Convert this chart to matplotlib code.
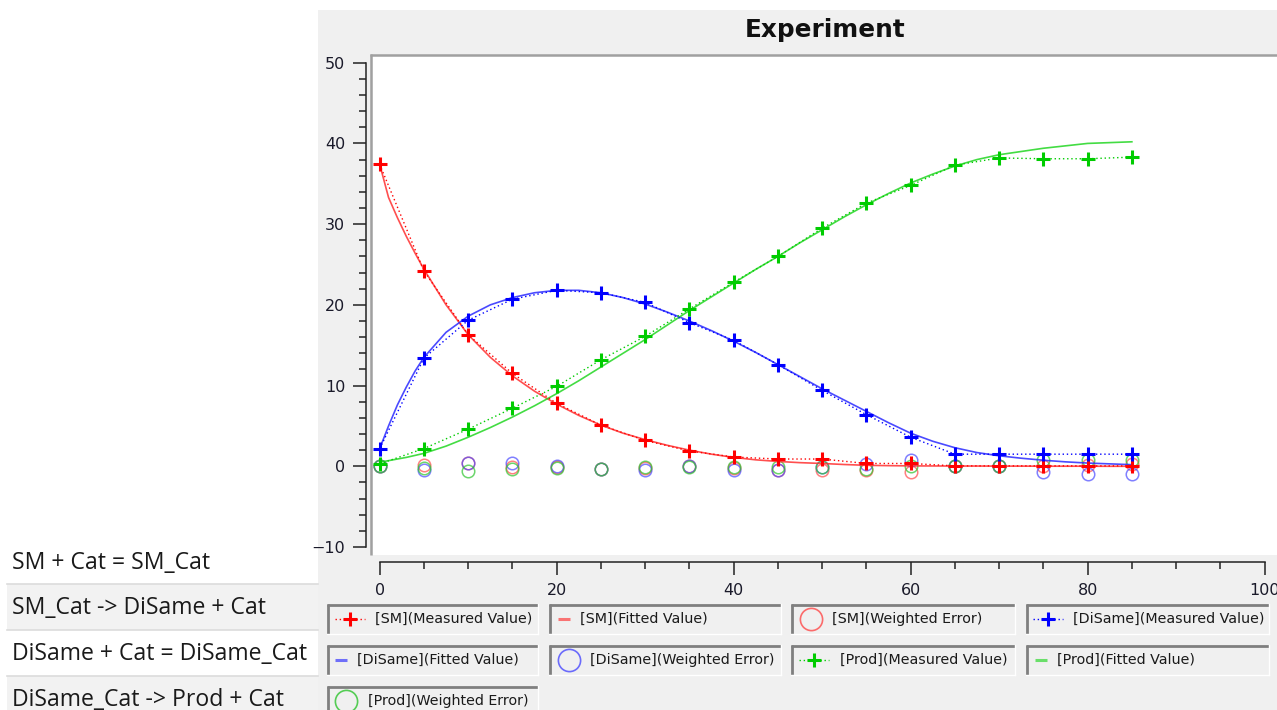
import matplotlib
matplotlib.use("Agg")
import matplotlib.pyplot as plt
from matplotlib.patches import Rectangle
from matplotlib.ticker import MultipleLocator

# measured samples
t_meas = [0, 5, 10, 15, 20, 25, 30, 35, 40, 45, 50, 55, 60, 65, 70, 75, 80, 85]
sm_meas = [37.4, 24.2, 16.3, 11.5, 7.8, 5.1, 3.2, 1.9, 1.15, 0.9, 0.9, 0.35, 0.35, 0.05, 0.05, 0.05, 0.05, 0.05]
dis_meas = [2.2, 13.4, 18.1, 20.7, 21.8, 21.5, 20.3, 17.8, 15.6, 12.6, 9.4, 6.4, 3.6, 1.5, 1.5, 1.5, 1.5, 1.5]
prod_meas = [0.3, 2.2, 4.6, 7.2, 9.9, 13.2, 16.1, 19.5, 22.8, 26.0, 29.5, 32.6, 34.8, 37.3, 38.2, 38.1, 38.1, 38.3]

# weighted errors
sm_err = [0.0, 0.1, 0.45, -0.1, -0.1, -0.3, -0.2, 0.0, -0.2, -0.4, -0.5, -0.4, -0.7, 0.0, 0.05, 0.05, 0.2, 0.3]
dis_err = [0.0, -0.4, 0.45, 0.45, 0.0, -0.3, -0.4, 0.0, -0.4, -0.4, -0.1, 0.3, 0.75, 0.0, 0.05, -0.7, -0.9, -1.0]
prod_err = [0.05, -0.2, -0.6, -0.3, -0.2, -0.3, -0.1, -0.05, -0.1, -0.1, -0.1, -0.3, 0.05, 0.05, 0.05, 0.75, 0.75, 0.75]

# fitted curves
t_fit = [0, 1, 2, 3, 4, 5, 7.5, 10, 12.5, 15, 17.5, 20, 22.5, 25, 27.5, 30, 32.5, 35, 37.5, 40,
         42.5, 45, 47.5, 50, 52.5, 55, 57.5, 60, 62.5, 65, 67.5, 70, 72.5, 75, 77.5, 80, 82.5, 85]
sm_fit = [37.4, 33.3, 30.8, 28.5, 26.4, 24.4, 20.0, 16.3, 13.5, 11.2, 9.3, 7.7, 6.3, 5.1, 4.1, 3.3, 2.6, 2.0, 1.5, 1.1,
          0.8, 0.6, 0.45, 0.35, 0.22, 0.12, 0.08, 0.05, 0.04, 0.03, 0.03, 0.02, 0.02, 0.01, 0.01, 0.01, 0.0, 0.0]
dis_fit = [2.2, 5.0, 7.6, 9.8, 11.8, 13.5, 16.6, 18.6, 20.0, 20.9, 21.5, 21.8, 21.8, 21.5, 20.9, 20.1, 19.1, 18.0, 16.8, 15.5,
           14.1, 12.6, 11.1, 9.6, 8.2, 6.8, 5.4, 4.1, 3.1, 2.3, 1.7, 1.3, 1.0, 0.75, 0.55, 0.4, 0.3, 0.2]
prod_fit = [0.5, 0.7, 0.9, 1.1, 1.35, 1.6, 2.5, 3.6, 4.8, 6.1, 7.5, 9.0, 10.6, 12.3, 14.0, 15.7, 17.5, 19.3, 21.0, 22.7,
            24.4, 26.0, 27.7, 29.3, 30.9, 32.4, 33.8, 35.1, 36.2, 37.2, 38.0, 38.6, 39.0, 39.4, 39.7, 40.0, 40.1, 40.2]

reactions = ["SM + Cat = SM_Cat", "SM_Cat -> DiSame + Cat", "DiSame + Cat = DiSame_Cat", "DiSame_Cat -> Prod + Cat"]

c_meas = {"SM": "#ff0000", "DiSame": "#0000ff", "Prod": "#00cc00"}
c_fit = {"SM": "#ff3030", "DiSame": "#2a2aff", "Prod": "#22d622"}
c_err = {"SM": "#ff4a4a", "DiSame": "#4a4aff", "Prod": "#2ec42e"}

W, H = 1277, 710
fig = plt.figure(figsize=(W / 100, H / 100), dpi=100)
fig.patch.set_facecolor("white")

# pixel-space layer for panels, list and legend boxes
bg = fig.add_axes([0, 0, 1, 1], zorder=0)
bg.set_xlim(0, W)
bg.set_ylim(H, 0)
bg.axis("off")

bg.add_patch(Rectangle((318, 10), W - 318, H - 10, facecolor="#f0f0f0", edgecolor="none"))
bg.add_patch(Rectangle((372, 56), W - 372, 499, facecolor="white", edgecolor="none"))
bg.plot([370.7, 370.7], [54, 555], color="#a0a0a0", lw=1.8, solid_capstyle="butt")
bg.plot([369.5, W], [54.8, 54.8], color="#a0a0a0", lw=1.8, solid_capstyle="butt")

# reaction list
rows = [(540, 584, "white"), (584, 630, "#f2f2f2"), (630, 676, "white"), (676, 722, "#f2f2f2")]
for (y0, y1, fc), txt in zip(rows, reactions):
    bg.add_patch(Rectangle((7, y0), 311, y1 - y0, facecolor=fc, edgecolor="none"))
    bg.text(12, (y0 + y1) / 2 + 1, txt, fontsize=16.6, family="Open Sans", color="#1a1a1a",
            ha="left", va="center")
for ys in [584, 630, 676]:
    bg.plot([7, 318], [ys, ys], color="#dcdcdc", lw=1.2)

# main chart
ax = fig.add_axes([372 / W, (H - 555) / H, (W - 372) / W, 499 / H], zorder=1)
ax.patch.set_alpha(0)

for name, err in [("SM", sm_err), ("DiSame", dis_err), ("Prod", prod_err)]:
    ax.plot(t_meas, err, ls="none", marker="o", ms=9, mfc="none", mec=c_err[name], mew=1.1, alpha=0.7)

for name, fit in [("SM", sm_fit), ("DiSame", dis_fit), ("Prod", prod_fit)]:
    ax.plot(t_fit, fit, color=c_fit[name], lw=1.2, alpha=0.85)

for name, meas in [("SM", sm_meas), ("DiSame", dis_meas), ("Prod", prod_meas)]:
    ax.plot(t_meas, meas, color=c_meas[name], ls=(0, (1, 2)), lw=1.0, marker="+", ms=10, mew=2.2)

ax.set_xlim(-0.87, 101.4)
ax.set_ylim(-10.99, 50.83)
for s in ["top", "right"]:
    ax.spines[s].set_visible(False)
ax.spines["left"].set_position(("outward", 4.3))
ax.spines["bottom"].set_position(("outward", 5.0))
ax.spines["left"].set_bounds(-10, 50)
ax.spines["bottom"].set_bounds(0, 100)
for s in ["left", "bottom"]:
    ax.spines[s].set_linewidth(1.1)
    ax.spines[s].set_color("#222222")
ax.xaxis.set_major_locator(MultipleLocator(20))
ax.xaxis.set_minor_locator(MultipleLocator(5))
ax.yaxis.set_major_locator(MultipleLocator(10))
ax.yaxis.set_minor_locator(MultipleLocator(2))
ax.tick_params(which="major", direction="out", length=9.4, width=1.1, color="#222222",
               labelsize=11.5, labelcolor="#1a1a2a")
ax.tick_params(which="minor", direction="out", length=5, width=1.1, color="#222222")
ax.tick_params(axis="x", which="major", pad=6)
ax.tick_params(axis="y", which="major", pad=5.5)
ax.spines["left"].set_zorder(3)

fig.text(825 / W, 1 - 30 / H, "Experiment", ha="center", va="center", fontsize=17.8,
         fontweight="bold", color="#111111")

# legend boxes
cols = [(327, 538), (549, 781), (791, 1015), (1026, 1269)]
rows_y = [(604, 634), (645, 675), (686, 716)]
entries = [
    (0, 0, "SM", "meas", 350, 375), (0, 1, "SM", "fit", 558, 580), (0, 2, "SM", "err", 811, 832),
    (0, 3, "DiSame", "meas", 1048, 1073),
    (1, 0, "DiSame", "fit", 335, 357), (1, 1, "DiSame", "err", 569, 590), (1, 2, "Prod", "meas", 814, 840),
    (1, 3, "Prod", "fit", 1035, 1057),
    (2, 0, "Prod", "err", 346, 368),
]
kind_label = {"meas": "Measured Value", "fit": "Fitted Value", "err": "Weighted Error"}
for r, c, name, kind, sx, tx in entries:
    x0, x1 = cols[c]
    y0, y1 = rows_y[r]
    bg.add_patch(Rectangle((x0, y0), x1 - x0, y1 - y0, facecolor="#f0f0f0", edgecolor="none"))
    bg.plot([x0, x1], [y0 + 1, y0 + 1], color="#7f7f7f", lw=2.0, solid_capstyle="butt")
    bg.plot([x0 + 1, x0 + 1], [y0, y1], color="#7f7f7f", lw=2.0, solid_capstyle="butt")
    bg.plot([x0, x1], [y1, y1], color="white", lw=1.0)
    bg.plot([x1, x1], [y0, y1], color="white", lw=1.0)
    cy = (y0 + y1) / 2
    if kind == "meas":
        bg.plot([sx - 15, sx + 15], [cy, cy], color=c_meas[name], ls=(0, (1, 2)), lw=1.0)
        bg.plot([sx], [cy], color=c_meas[name], marker="+", ms=10, mew=2.2)
    elif kind == "fit":
        bg.plot([sx, sx + 12], [cy, cy], color=c_fit[name], lw=2.2, alpha=0.65, solid_capstyle="butt")
    else:
        bg.plot([sx], [cy], marker="o", ms=16, mfc="none", mec=c_err[name], mew=1.2, alpha=0.8)
    bg.text(tx, cy, "[%s](%s)" % (name, kind_label[kind]), fontsize=10.3, color="#1a1a1a",
            ha="left", va="center")

fig.savefig("out.png", dpi=100)
